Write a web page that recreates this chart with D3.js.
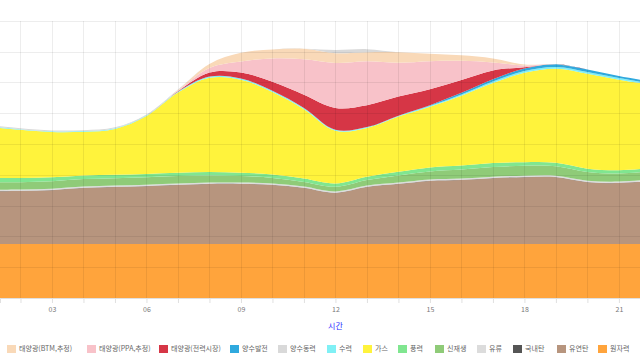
<!DOCTYPE html>
<html>
<head>
<meta charset="utf-8">
<style>
  html, body { margin: 0; padding: 0; background: #fff; }
  svg { display: block; }
  text { font-family: 'Noto Sans CJK KR', 'Noto Sans', sans-serif; }
</style>
</head>
<body>
<svg id="chart" width="640" height="360"></svg>
<script src="https://cdn.jsdelivr.net/npm/d3@7"></script>
<script>
// hourly generation by source, MW
var hours       = [1, 2, 3, 4, 5, 6, 7, 8, 9, 10, 11, 12, 13, 14, 15, 16, 17, 18, 19, 20, 21, 22];
var nuclear     = [17500, 17500, 17500, 17500, 17500, 17500, 17500, 17500, 17500, 17500, 17500, 17500, 17500, 17500, 17500, 17500, 17500, 17500, 17500, 17500, 17500, 17500];
var bituminous  = [17200, 17200, 17500, 18200, 18500, 18800, 19200, 19500, 19500, 19200, 18200, 16600, 18500, 19500, 20500, 20800, 21400, 21700, 21700, 20100, 19800, 20500];
var anthracite  = [100, 100, 100, 100, 100, 100, 100, 100, 100, 100, 100, 100, 100, 100, 100, 100, 100, 100, 100, 100, 100, 100];
var oil         = [400, 400, 400, 400, 400, 400, 400, 400, 400, 400, 400, 400, 400, 400, 400, 400, 400, 400, 400, 400, 400, 400];
var renewable   = [2400, 2400, 2400, 2400, 2400, 2400, 2400, 2300, 2100, 1800, 1500, 1500, 1800, 2300, 2600, 2900, 3100, 3200, 3100, 2800, 2600, 2600];
var wind        = [1400, 1400, 1300, 1200, 1100, 1100, 1100, 1100, 1100, 1100, 1100, 1100, 1100, 1200, 1300, 1300, 1300, 1200, 1100, 1100, 1100, 1100];
var gas         = [16600, 15600, 14700, 14200, 14900, 18800, 26000, 30600, 30200, 26800, 22500, 17100, 15800, 17900, 19700, 22700, 26000, 29000, 30500, 30800, 29400, 27100];
var hydro       = [200, 200, 200, 200, 200, 200, 300, 400, 400, 400, 400, 300, 300, 300, 300, 400, 500, 600, 600, 600, 500, 400];
var pumpGen     = [0, 0, 0, 0, 0, 0, 0, 0, 0, 0, 0, 0, 0, 0, 200, 500, 700, 800, 900, 800, 700, 600];
var solarMarket = [0, 0, 0, 0, 0, 0, 100, 1300, 1900, 2900, 4300, 7100, 7100, 6200, 5200, 4200, 2900, 400, 0, 0, 0, 0];
var solarPPA    = [0, 0, 0, 0, 0, 0, 200, 1500, 3600, 7600, 11500, 14600, 14300, 11000, 9100, 6200, 2600, 600, 0, 0, 0, 0];
var solarBTM    = [0, 0, 0, 0, 0, 0, 200, 1300, 2800, 2900, 3400, 3200, 2900, 3400, 2400, 1800, 1300, 300, 0, 0, 0, 0];
var pumpLoad    = [300, 300, 300, 300, 300, 300, 200, 0, 0, 0, 0, 1000, 1000, 0, 0, 0, 0, 0, 0, 0, 0, 0];

var tickHours = [3, 6, 9, 12, 15, 18, 21];
var tickLabels = ['03', '06', '09', '12', '15', '18', '21'];

// bottom to top
var series = [
    {name: '원자력', values: nuclear, color: '#ffa43c'},
    {name: '유연탄', values: bituminous, color: '#b7957e'},
    {name: '국내탄', values: anthracite, color: '#555555'},
    {name: '유류', values: oil, color: '#dcdcdc'},
    {name: '신재생', values: renewable, color: '#8fcb78'},
    {name: '풍력', values: wind, color: '#80e690'},
    {name: '가스', values: gas, color: '#fff33c'},
    {name: '수력', values: hydro, color: '#80f0f5'},
    {name: '양수발전', values: pumpGen, color: '#2fa9de'},
    {name: '태양광(전력시장)', values: solarMarket, color: '#d63646'},
    {name: '태양광(PPA,추정)', values: solarPPA, color: '#f8c2c9'},
    {name: '태양광(BTM,추정)', values: solarBTM, color: '#f9d9b8'},
    {name: '양수동력', values: pumpLoad, color: '#d9d9d9'}
];
var legendOrder = ['태양광(BTM,추정)', '태양광(PPA,추정)', '태양광(전력시장)', '양수발전', '양수동력',
    '수력', '가스', '풍력', '신재생', '유류', '국내탄', '유연탄', '원자력'];
var legendX = [7, 87, 159, 230, 278, 327, 363, 398, 435, 477, 513, 557, 598];

var svg = d3.select('#chart'),
    width = 640,
    plotTop = 20.8, plotBottom = 298;

var x = d3.scaleLinear().domain([1.35, 21.67]).range([0, width]);
var y = d3.scaleLinear().domain([0, 90000]).range([plotBottom, plotTop]);

var rows = hours.map(function(h, i) {
    var r = {hour: h};
    series.forEach(function(s) { r[s.name] = s.values[i]; });
    return r;
});

var stack = d3.stack().keys(series.map(function(s) { return s.name; }));
var layers = stack(rows);

svg.append('defs').append('clipPath').attr('id', 'plot')
    .append('rect').attr('x', 0).attr('y', plotTop - 1).attr('width', width).attr('height', plotBottom - plotTop + 1);

var area = d3.area()
    .curve(d3.curveCatmullRom.alpha(0.5))
    .x(function(d) { return x(d.data.hour); })
    .y0(function(d) { return y(d[0]); })
    .y1(function(d) { return y(d[1]); });

var colorOf = {};
series.forEach(function(s) { colorOf[s.name] = s.color; });

svg.append('g').attr('clip-path', 'url(#plot)')
    .selectAll('path')
    .data(layers)
    .enter().append('path')
    .attr('d', area)
    .attr('fill', function(d) { return colorOf[d.key]; });

// grid on top, faint
var grid = svg.append('g').attr('stroke', '#000').attr('stroke-opacity', 0.07).attr('shape-rendering', 'crispEdges');
grid.selectAll('line.v')
    .data(d3.range(2, 22))
    .enter().append('line')
    .attr('class', 'v')
    .attr('x1', function(d) { return Math.round(x(d)) + 0.5; })
    .attr('x2', function(d) { return Math.round(x(d)) + 0.5; })
    .attr('y1', plotTop).attr('y2', plotBottom);
grid.selectAll('line.h')
    .data(y.ticks(9))
    .enter().append('line')
    .attr('class', 'h')
    .attr('x1', 0).attr('x2', width)
    .attr('y1', function(d) { return Math.round(y(d)) + 0.5; })
    .attr('y2', function(d) { return Math.round(y(d)) + 0.5; });

// x axis
var axis = svg.append('g').attr('transform', 'translate(0,' + plotBottom + ')')
    .call(d3.axisBottom(x).tickValues(d3.range(2, 22)).tickSize(5)
        .tickFormat(function(d) { var i = tickHours.indexOf(d); return i < 0 ? '' : tickLabels[i]; }));
axis.select('.domain').attr('stroke', '#e0e0e0');
axis.selectAll('.tick line').attr('stroke', '#e0e0e0');
axis.selectAll('.tick text').attr('fill', '#777').attr('font-size', 7).attr('dy', '0.9em')
    .attr('font-family', "'Noto Sans CJK KR', sans-serif");

svg.append('text')
    .attr('x', x(12)).attr('y', 327)
    .attr('text-anchor', 'middle')
    .attr('dominant-baseline', 'middle')
    .attr('font-size', 8)
    .attr('fill', '#2b2bff')
    .text('시간');

// legend
var legend = svg.append('g');
legendOrder.forEach(function(name, i) {
    var g = legend.append('g').attr('transform', 'translate(' + legendX[i] + ',349)');
    g.append('rect').attr('x', 0).attr('y', -4).attr('width', 9).attr('height', 8)
        .attr('fill', colorOf[name]);
    g.append('text').attr('x', 12).attr('y', 0)
        .attr('dominant-baseline', 'middle')
        .attr('font-size', 7)
        .attr('fill', '#666')
        .text(name);
});
</script>
</body>
</html>
